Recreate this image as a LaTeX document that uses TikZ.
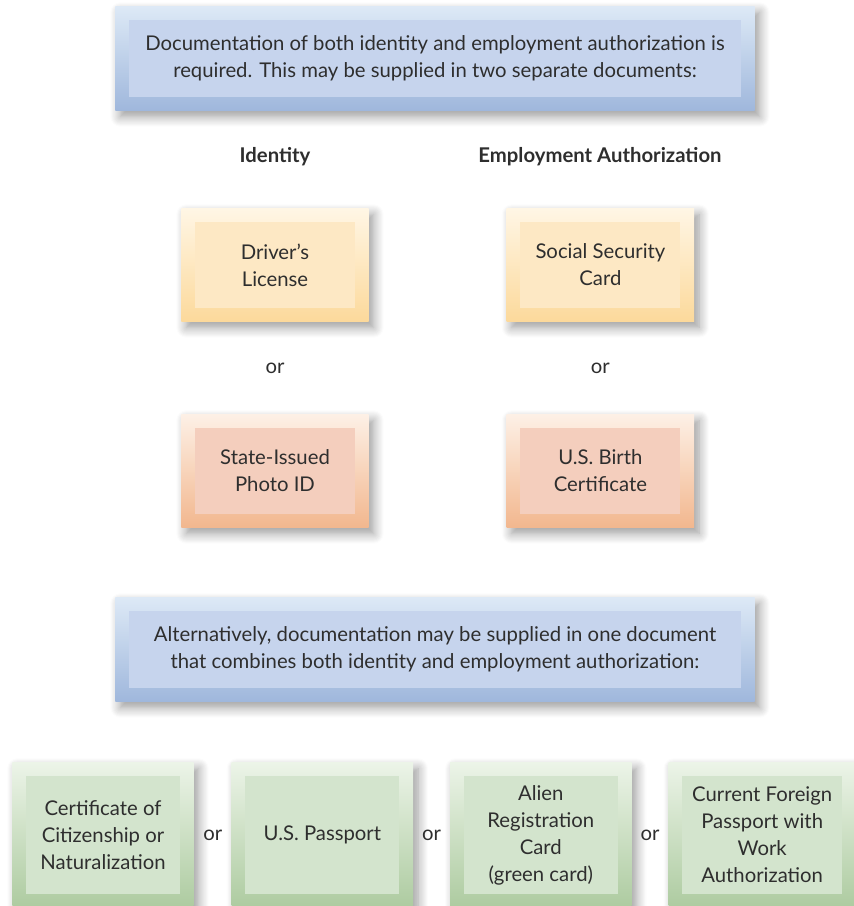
\documentclass[tikz,border=0pt]{standalone}
\usepackage{fontspec}
\setmainfont{Lato}
\usetikzlibrary{positioning, fit, backgrounds, shadows.blur}

\definecolor{txtgray}{HTML}{2E2E2E}
\definecolor{bluetop}{HTML}{DDE9F6}
\definecolor{bluebot}{HTML}{9FB7DC}
\definecolor{bluein}{HTML}{C6D4ED}
\definecolor{yeltop}{HTML}{FFF6E5}
\definecolor{yelbot}{HTML}{FCD99B}
\definecolor{yelin}{HTML}{FDE8C4}
\definecolor{orgtop}{HTML}{FDF0E6}
\definecolor{orgbot}{HTML}{F2B78E}
\definecolor{orgin}{HTML}{F4CEBD}
\definecolor{grntop}{HTML}{ECF4E8}
\definecolor{grnbot}{HTML}{ADCBA0}
\definecolor{grnin}{HTML}{D3E4CD}

\begin{document}
\begin{tikzpicture}[
    x=1pt, y=-1pt,
    font=\fontsize{20.3}{27}\selectfont, text=txtgray,
    panel/.style={rectangle, align=center, inner sep=0pt, minimum width=612pt, minimum height=77pt, fill=bluein},
    card/.style={rectangle, align=center, inner sep=0pt, minimum width=160pt, minimum height=86pt},
    tallcard/.style={rectangle, align=center, inner sep=0pt, minimum width=154pt, minimum height=118pt, fill=grnin},
    frame/.style={rectangle, inner sep=13.5pt, blur shadow={shadow xshift=5pt, shadow yshift=-6pt, shadow blur radius=10pt, shadow blur steps=10, shadow opacity=40}},
    head/.style={font=\fontsize{20.3}{27}\selectfont\bfseries},
    orlabel/.style={inner sep=0pt},
]
    \useasboundingbox (0,0) rectangle (854,906);
    \clip (0,0) rectangle (854,906);

    % first statement
    \node (intro) [panel] at (435,58.5) {Documentation of both identity and employment authorization is\\required. This may be supplied in two separate documents:};

    \node (idhead) [head] at (275,157) {Identity};
    \node (emphead) [head] at (600,157) {Employment Authorization};

    % two separate documents
    \node (license) [card, fill=yelin] at (275,265) {Driver’s\\License};
    \node (ssc) [card, fill=yelin, right=165pt of license] {Social Security\\Card};
    \node (photoid) [card, fill=orgin] at (275,471) {State-Issued\\Photo ID};
    \node (birth) [card, fill=orgin, right=165pt of photoid] {U.S. Birth\\Certificate};

    \path (license) -- node (or1) [orlabel] {or} (photoid);
    \path (ssc) -- node (or2) [orlabel] {or} (birth);

    % second statement
    \node (alt) [panel] at (435,649.5) {Alternatively, documentation may be supplied in one document\\that combines both identity and employment authorization:};

    % one combined document
    \node (citizen) [tallcard] at (103,835) {Certificate of\\Citizenship or\\Naturalization};
    \node (passport) [tallcard, right=65pt of citizen] {U.S. Passport};
    \node (alien) [tallcard, right=64pt of passport] {Alien\\Registration\\Card\\(green card)};
    \node (foreign) [tallcard, minimum width=160pt, right=64pt of alien] {Current Foreign\\Passport with\\Work\\Authorization};

    \path (citizen) -- node (or3) [orlabel] {or} (passport);
    \path (passport) -- node (or4) [orlabel] {or} (alien);
    \path (alien) -- node (or5) [orlabel] {or} (foreign);

    % outer frames
    \begin{scope}[on background layer]
        \node [frame, top color=bluetop, bottom color=bluebot, fit=(intro)] {};
        \node [frame, top color=bluetop, bottom color=bluebot, fit=(alt)] {};
        \node [frame, top color=yeltop, bottom color=yelbot, fit=(license)] {};
        \node [frame, top color=yeltop, bottom color=yelbot, fit=(ssc)] {};
        \node [frame, top color=orgtop, bottom color=orgbot, fit=(photoid)] {};
        \node [frame, top color=orgtop, bottom color=orgbot, fit=(birth)] {};
        \node [frame, top color=grntop, bottom color=grnbot, fit=(citizen)] {};
        \node [frame, top color=grntop, bottom color=grnbot, fit=(passport)] {};
        \node [frame, top color=grntop, bottom color=grnbot, fit=(alien)] {};
        \node [frame, top color=grntop, bottom color=grnbot, fit=(foreign)] {};
    \end{scope}

\end{tikzpicture}
\end{document}
